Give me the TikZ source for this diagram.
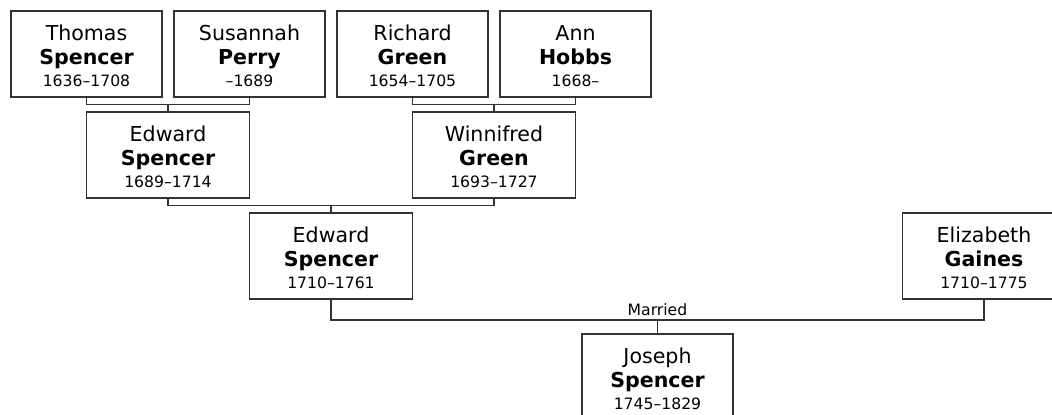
\documentclass[tikz,border=0pt]{standalone}
\usepackage{fontspec}
\setmainfont{DejaVu Sans}
\newcommand{\yr}[1]{{\fontsize{8.9}{10}\selectfont #1}}
\newcommand{\up}{\rule{0pt}{11.2pt}}

\begin{document}
\begin{tikzpicture}[x=0.02cm,y=-0.02cm]
\tikzstyle{person} = [draw=black!80, line width=0.75pt, fill=white, align=center, inner sep=0pt, minimum width=3.02cm, minimum height=1.72cm, font=\fontsize{11.7}{13.9}\selectfont]
\tikzstyle{child} = [person, minimum width=3.26cm]
\tikzstyle{link} = [draw=black!80, line width=0.75pt]

\clip (0,0) rectangle (1052,414);

\node[person] (thomas) at (86.5,54) {\up Thomas\\\textbf{Spencer}\\[-1.4pt]\yr{1636–1708}};
\node[person] (susannah) at (249.5,54) {\up Susannah\\\textbf{Perry}\\[-1.4pt]\yr{–1689}};
\node[person] (richard) at (412.5,54) {\up Richard\\\textbf{Green}\\[-1.4pt]\yr{1654–1705}};
\node[person] (ann) at (575.5,54) {\up Ann\\\textbf{Hobbs}\\[-1.4pt]\yr{1668–}};
\node[child] (edwardA) at (168,155) {\up Edward\\\textbf{Spencer}\\[-1.4pt]\yr{1689–1714}};
\node[child] (winnifred) at (494,155) {\up Winnifred\\\textbf{Green}\\[-1.4pt]\yr{1693–1727}};
\node[child] (edwardB) at (331,256) {\up Edward\\\textbf{Spencer}\\[-1.4pt]\yr{1710–1761}};
\node[child] (elizabeth) at (984,256) {\up Elizabeth\\\textbf{Gaines}\\[-1.4pt]\yr{1710–1775}};
\node[person] (joseph) at (657.5,377) {\up Joseph\\\textbf{Spencer}\\[-1.4pt]\yr{1745–1829}};

\coordinate (m1) at (168,104.5);
\coordinate (m2) at (494,104.5);
\coordinate (m3) at (331,205.5);
\coordinate (m4) at (657.5,320);
\node (married) at (657.5,310) {\yr{Married}};

\draw[link] (thomas.south) |- (m1) -| (susannah.south);
\draw[link] (m1) -- (edwardA.north);
\draw[link] (richard.south) |- (m2) -| (ann.south);
\draw[link] (m2) -- (winnifred.north);
\draw[link] (edwardA.south) |- (m3) -| (winnifred.south);
\draw[link] (m3) -- (edwardB.north);
\draw[link] (edwardB.south) |- (m4) -| (elizabeth.south);
\draw[link] (m4) -- (joseph.north);
\end{tikzpicture}
\end{document}
